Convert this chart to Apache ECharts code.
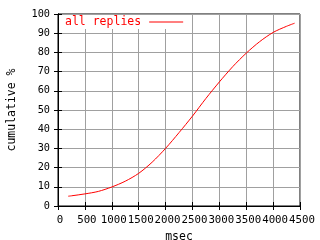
<!DOCTYPE html>
<html><head><meta charset="utf-8">
<script src="https://cdn.jsdelivr.net/npm/echarts@6/dist/echarts.min.js"></script>
<style>html,body{margin:0;padding:0;background:#fff}#c{width:320px;height:240px}</style>
</head><body><div id="c"></div>
<script>
var msec = [190, 250, 500, 750, 1000, 1250, 1500, 1750, 2000, 2250, 2500, 2750, 3000, 3250, 3500, 3750, 4000, 4250, 4400];
var pct = [5.1, 5.3, 6.3, 7.6, 9.9, 12.9, 17.0, 22.8, 30.0, 38.2, 46.8, 56.0, 64.6, 72.6, 79.6, 85.6, 90.4, 93.6, 95.2];
var seriesName = 'all replies';
var xTitle = 'msec';
var yTitle = 'cumulative %';

var FONT = 'DejaVu Sans Mono';
var chart = echarts.init(document.getElementById('c'), null, {renderer: 'canvas'});
var pts = msec.map(function (m, i) { return [m, pct[i]]; });
var tickIn = {show: true, inside: true, length: 4, lineStyle: {color: '#000', width: 1}};
chart.setOption({
  animation: false,
  backgroundColor: '#fff',
  grid: {left: 58, top: 14, width: 242, height: 192, show: true, borderColor: '#000', borderWidth: 1,
    backgroundColor: 'transparent', containLabel: false, outerBoundsMode: 'none'},
  legend: {
    show: true, left: 59, top: 15, align: 'right', itemWidth: 34, itemHeight: 1, itemGap: 0,
    padding: [1, 3, 1, 6], backgroundColor: '#fff',
    textStyle: {color: '#ff0000', fontFamily: FONT, fontSize: 11.5, padding: [0, 3, 0, 0]},
    data: [{name: seriesName, icon: 'rect'}]
  },
  xAxis: [{
    type: 'value', min: 0, max: 4500, interval: 500, position: 'bottom',
    name: xTitle, nameLocation: 'middle', nameGap: 21,
    nameTextStyle: {color: '#000', fontFamily: FONT, fontSize: 11.5},
    axisLine: {show: true, lineStyle: {color: '#000'}},
    axisTick: tickIn,
    axisLabel: {color: '#000', fontFamily: FONT, fontSize: 10.75, margin: 9, padding: [0, 0, 0, 4],
      showMinLabel: true, showMaxLabel: true, hideOverlap: false,
      formatter: function (v) { return String(v); }},
    splitLine: {show: true, lineStyle: {color: '#a0a0a0', width: 1}}
  }, {
    type: 'value', min: 0, max: 4500, interval: 500, position: 'top',
    axisLine: {show: true, lineStyle: {color: '#000'}},
    axisTick: tickIn, axisLabel: {show: false}, splitLine: {show: false}
  }],
  yAxis: [{
    type: 'value', min: 0, max: 100, interval: 10, position: 'left',
    name: yTitle, nameLocation: 'middle', nameGap: 40, nameRotate: 90,
    nameTextStyle: {color: '#000', fontFamily: FONT, fontSize: 11.5},
    axisLine: {show: true, lineStyle: {color: '#000'}},
    axisTick: tickIn,
    axisLabel: {color: '#000', fontFamily: FONT, fontSize: 10.25, margin: 8,
      formatter: function (v) { return String(v); }},
    splitLine: {show: true, lineStyle: {color: '#a0a0a0', width: 1}}
  }, {
    type: 'value', min: 0, max: 100, interval: 10, position: 'right',
    axisLine: {show: true, lineStyle: {color: '#000'}},
    axisTick: tickIn, axisLabel: {show: false}, splitLine: {show: false}
  }],
  series: [{
    name: seriesName, type: 'line', data: pts, symbol: 'none', smooth: 0.3,
    lineStyle: {color: '#ff0000', width: 1}, itemStyle: {color: '#ff0000'}
  }]
});
</script></body></html>
